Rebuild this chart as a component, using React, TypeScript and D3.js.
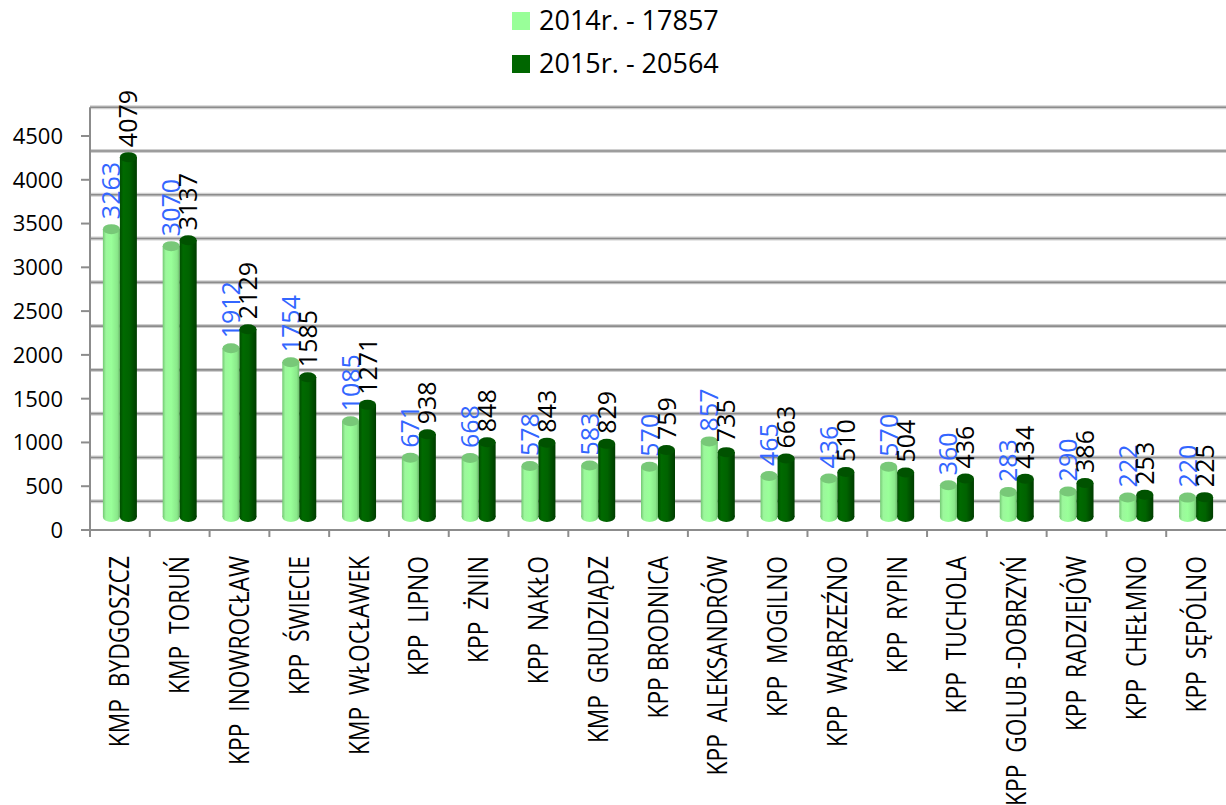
import { useEffect, useRef } from 'react'
import * as d3 from 'd3'

const categories = [
  'KMP  BYDGOSZCZ', 'KMP  TORUŃ', 'KPP  INOWROCŁAW', 'KPP  ŚWIECIE', 'KMP  WŁOCŁAWEK',
  'KPP  LIPNO', 'KPP  ŻNIN', 'KPP  NAKŁO', 'KMP  GRUDZIĄDZ', 'KPP BRODNICA',
  'KPP  ALEKSANDRÓW', 'KPP  MOGILNO', 'KPP  WĄBRZEŹNO', 'KPP  RYPIN', 'KPP  TUCHOLA',
  'KPP  GOLUB -DOBRZYŃ', 'KPP  RADZIEJÓW', 'KPP  CHEŁMNO', 'KPP  SĘPÓLNO'
]
const values2014 = [3263, 3070, 1912, 1754, 1085, 671, 668, 578, 583, 570, 857, 465, 436, 570, 360, 283, 290, 222, 220]
const values2015 = [4079, 3137, 2129, 1585, 1271, 938, 848, 843, 829, 759, 735, 663, 510, 504, 436, 434, 386, 253, 225]
const seriesNames = ['2014r. - 17857', '2015r. - 20564']
const yTicks = [0, 500, 1000, 1500, 2000, 2500, 3000, 3500, 4000, 4500]

const FONT = '"Open Sans", sans-serif'

export default function App() {
  const svgRef = useRef<SVGSVGElement>(null)

  useEffect(() => {
    const W = 1226
    const H = 805
    const svg = d3.select(svgRef.current)
    svg.selectAll('*').remove()
    svg.attr('width', W).attr('height', H)

    // front axis scale (tick labels) and back-wall / bar scales of the 3D box
    const y = d3.scaleLinear().domain([0, 4500]).range([530, 136])
    const yBar = d3.scaleLinear().domain([0, 4500]).range([517, 120])
    const gridShift = 15
    const x = d3.scaleBand().domain(categories).range([90, 1226])
    const barW = 17
    const sub = d3.scaleBand().domain(['a', 'b']).range([0, barW * 2])
    const ry = 5

    const defs = svg.append('defs')
    const grad = (id, stops) => {
      const g = defs.append('linearGradient').attr('id', id).attr('x1', 0).attr('x2', 1).attr('y1', 0).attr('y2', 0)
      stops.forEach(([o, c]) => g.append('stop').attr('offset', o).attr('stop-color', c))
    }
    grad('light', [[0, '#74c874'], [0.18, '#9cf79c'], [0.5, '#99ff99'], [0.85, '#8ae88a'], [1, '#6cbc6c']])
    grad('dark', [[0, '#004e00'], [0.2, '#006a00'], [0.55, '#006300'], [1, '#003c00']])

    // back wall gridlines
    const grid = svg.append('g')
    const gridVals = [...yTicks.slice(1), 5000]
    grid.selectAll('line.halo')
      .data(gridVals)
      .join('line')
      .attr('class', 'halo')
      .attr('x1', 90).attr('x2', W)
      .attr('y1', d => y(d) + gridShift).attr('y2', d => y(d) + gridShift)
      .attr('stroke', '#d0d0d0').attr('stroke-width', 4)
    grid.selectAll('line.main')
      .data(gridVals)
      .join('line')
      .attr('class', 'main')
      .attr('x1', 90).attr('x2', W)
      .attr('y1', d => y(d) + gridShift).attr('y2', d => y(d) + gridShift)
      .attr('stroke', '#8c8c8c').attr('stroke-width', 1.6)

    // walls / axes
    svg.append('line')
      .attr('x1', 90).attr('x2', 90)
      .attr('y1', y(5000) + gridShift).attr('y2', y(0) + 7)
      .attr('stroke', '#8c8c8c').attr('stroke-width', 2)
    svg.append('line')
      .attr('x1', 90).attr('x2', W)
      .attr('y1', y(0)).attr('y2', y(0))
      .attr('stroke', '#8c8c8c').attr('stroke-width', 2)
    svg.selectAll('line.xtick')
      .data(categories)
      .join('line')
      .attr('class', 'xtick')
      .attr('x1', d => x(d)).attr('x2', d => x(d))
      .attr('y1', y(0)).attr('y2', y(0) + 7)
      .attr('stroke', '#8c8c8c').attr('stroke-width', 2)
    svg.selectAll('line.ytick')
      .data(yTicks)
      .join('line')
      .attr('class', 'ytick')
      .attr('x1', 81).attr('x2', 90)
      .attr('y1', d => y(d)).attr('y2', d => y(d))
      .attr('stroke', '#8c8c8c').attr('stroke-width', 2)
    svg.selectAll('text.ylab')
      .data(yTicks)
      .join('text')
      .attr('class', 'ylab')
      .attr('x', 63)
      .attr('y', d => y(d))
      .attr('dy', '0.36em')
      .attr('text-anchor', 'end')
      .attr('font-family', FONT)
      .attr('font-size', 22)
      .attr('fill', '#000')
      .text(d => d)

    // cylinders
    const series = [
      { key: 'a', values: values2014, fill: 'url(#light)', top: '#78c878', labelColor: '#3366ff' },
      { key: 'b', values: values2015, fill: 'url(#dark)', top: '#005200', labelColor: '#000' }
    ]
    series.forEach(s => {
      const data = categories.map((c, i) => ({ c, v: s.values[i] }))
      const cx = d => x(d.c) + x.bandwidth() / 2 - barW + sub(s.key) + barW / 2
      const g = svg.append('g')
      g.selectAll('ellipse.bottom')
        .data(data)
        .join('ellipse')
        .attr('class', 'bottom')
        .attr('cx', cx).attr('cy', yBar(0))
        .attr('rx', barW / 2).attr('ry', ry)
        .attr('fill', s.fill)
      g.selectAll('rect')
        .data(data)
        .join('rect')
        .attr('x', d => cx(d) - barW / 2)
        .attr('y', d => yBar(d.v))
        .attr('width', barW)
        .attr('height', d => yBar(0) - yBar(d.v))
        .attr('fill', s.fill)
      g.selectAll('ellipse.top')
        .data(data)
        .join('ellipse')
        .attr('class', 'top')
        .attr('cx', cx).attr('cy', d => yBar(d.v))
        .attr('rx', barW / 2).attr('ry', ry)
        .attr('fill', s.top)
      g.selectAll('text')
        .data(data)
        .join('text')
        .attr('transform', d => `translate(${cx(d)},${yBar(d.v) - ry - 5}) rotate(-90)`)
        .attr('dy', '0.36em')
        .attr('font-family', FONT)
        .attr('font-size', 25)
        .attr('fill', s.labelColor)
        .text(d => d.v)
    })

    // category labels
    svg.selectAll('text.cat')
      .data(categories)
      .join('text')
      .attr('class', 'cat')
      .attr('transform', d => `translate(${x(d) + x.bandwidth() / 2},556) rotate(-90) scale(0.86,1)`)
      .attr('dy', '0.36em')
      .attr('text-anchor', 'end')
      .attr('font-family', FONT)
      .attr('font-size', 26.5)
      .attr('fill', '#000')
      .style('white-space', 'pre')
      .text(d => d)

    // legend
    const legend = svg.append('g')
    const legendColors = ['#99ff99', '#006600']
    seriesNames.forEach((name, i) => {
      const ly = 12 + i * 43
      legend.append('rect')
        .attr('x', 512).attr('y', ly)
        .attr('width', 18).attr('height', 18)
        .attr('fill', legendColors[i])
      legend.append('text')
        .attr('x', 539).attr('y', ly + 18)
        .attr('font-family', FONT)
        .attr('font-size', 27)
        .attr('fill', '#000')
        .text(name)
    })
  }, [])

  return (
    <div style={{ position: 'absolute', left: 0, top: 0, background: '#fff' }}>
      <svg ref={svgRef} style={{ display: 'block' }} />
    </div>
  )
}
